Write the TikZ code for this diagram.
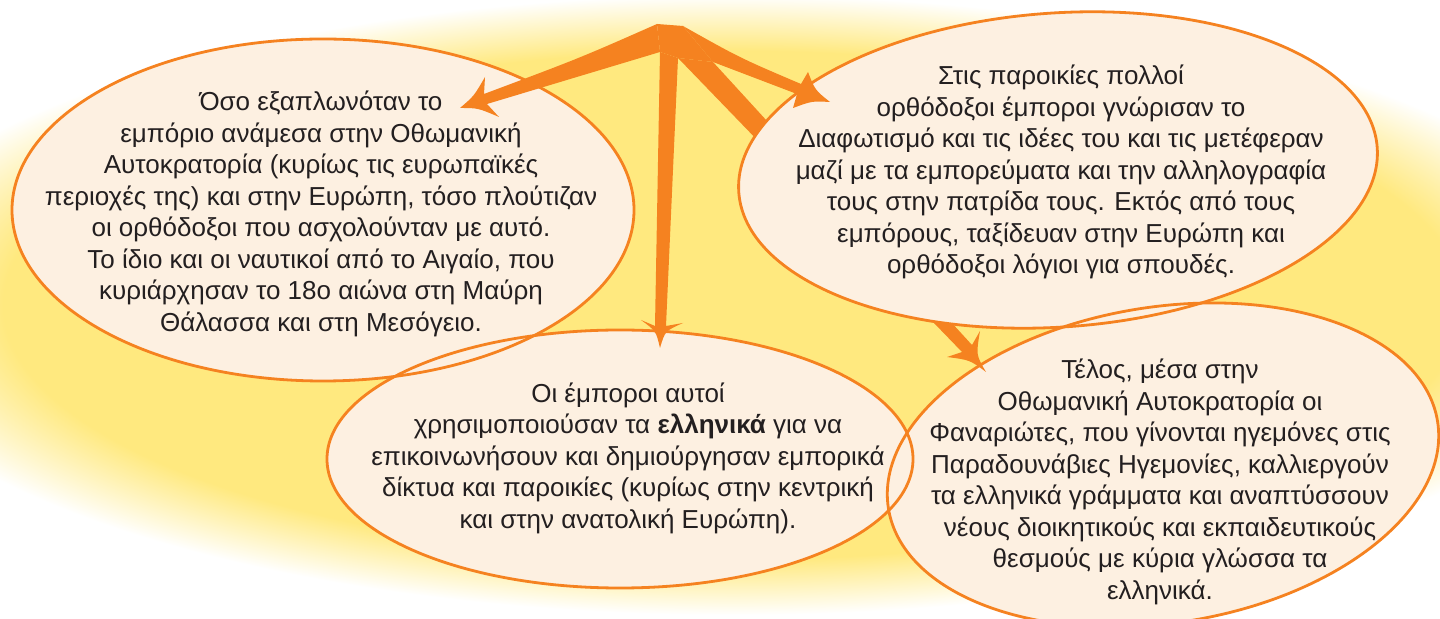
\documentclass[tikz,border=0pt]{standalone}
\usepackage{fontspec}
\setmainfont{Liberation Sans}
\definecolor{glowy}{HTML}{FFE97F}
\definecolor{cream}{HTML}{FDF0E1}
\definecolor{orng}{HTML}{F58220}
\definecolor{txt}{HTML}{231F20}
\pgfdeclareradialshading{glow}{\pgfpointorigin}{color(0bp)=(glowy); color(20.5bp)=(glowy); color(25bp)=(white); color(50bp)=(white)}
\begin{document}
\begin{tikzpicture}[x=0.5pt,y=-0.5pt,
  bubble/.style={fill=cream},
  rim/.style={draw=orng, line width=1.4pt},
  arr/.style={fill=orng},
  txtnode/.style={text=txt, align=center, font=\fontsize{13}{15.75}\selectfont, inner sep=0pt}]
\useasboundingbox (0,0) rectangle (1440,619);
\clip (0,0) rectangle (1440,619);
\fill[white] (0,0) rectangle (1440,619);
% glow
\shade[shading=glow] (733,305) ellipse [x radius=890, y radius=310];
% bubbles (fill)
\fill[bubble] (323,210) ellipse [x radius=311, y radius=171];
\fill[bubble] (620,459) ellipse [x radius=293, y radius=129];
\fill[bubble, rotate around={9:(1163,465)}] (1163,465) ellipse [x radius=278, y radius=158];
% rims
\draw[rim] (323,210) ellipse [x radius=311, y radius=171];
\draw[rim] (620,459) ellipse [x radius=293, y radius=129];
\draw[rim, rotate around={9:(1163,465)}] (1163,465) ellipse [x radius=278, y radius=158];
% diagonal arrow (behind upper right bubble)
\fill[arr] (678,58) -- (962,352) -- (947,357) .. controls (970,360) .. (986,372)
  .. controls (976,355) .. (980,331) -- (972,345) -- (713,62) -- cycle;
% upper right bubble
\fill[bubble, rotate around={4:(1058,170)}] (1058,170) ellipse [x radius=320, y radius=157];
\begin{scope}
\clip[rotate around={4:(1058,170)}] (1058,170) ellipse [x radius=320, y radius=157];
\draw[rim, rotate around={9:(1163,465)}] (1163,465) ellipse [x radius=278, y radius=158];
\end{scope}
\draw[rim, rotate around={4:(1058,170)}] (1058,170) ellipse [x radius=320, y radius=157];
% other arrows
\fill[arr] (657,24) .. controls (580,58) .. (484,94) -- (485,77) .. controls (474,96) .. (460,108)
  .. controls (478,108) .. (499,117) -- (487,104) -- (660,52) -- cycle;
\fill[arr] (660,52) -- (655,326) -- (641,320) .. controls (656,331) .. (660,348)
  .. controls (665,331) .. (683,323) -- (666,326) -- (678,58) -- cycle;
\fill[arr] (683,26) .. controls (740,58) .. (801,84) -- (808,72) .. controls (815,90) .. (830,102)
  .. controls (812,101) .. (793,108) -- (797,94) -- (713,62) -- cycle;
\fill[arr] (657,24) -- (683,26) -- (713,62) -- (678,58) -- (660,52) -- cycle;
% texts
\node[txtnode] (t1) at (321,214) {Όσο εξαπλωνόταν το\\εμπόριο ανάμεσα στην Οθωμανική\\Αυτοκρατορία (κυρίως τις ευρωπαϊκές\\περιοχές της) και στην Ευρώπη, τόσο πλούτιζαν\\οι ορθόδοξοι που ασχολούνταν με αυτό.\\Το ίδιο και οι ναυτικοί από το Αιγαίο, που\\κυριάρχησαν το 18ο αιώνα στη Μαύρη\\Θάλασσα και στη Μεσόγειο.};
\node[txtnode] (t2) at (1061,172) {Στις παροικίες πολλοί\\ορθόδοξοι έμποροι γνώρισαν το\\Διαφωτισμό και τις ιδέες του και τις μετέφεραν\\μαζί με τα εμπορεύματα και την αλληλογραφία\\τους στην πατρίδα τους. Εκτός από τους\\εμπόρους, ταξίδευαν στην Ευρώπη και\\ορθόδοξοι λόγιοι για σπουδές.};
\node[txtnode] (t3) at (628,458) {Οι έμποροι αυτοί\\χρησιμοποιούσαν τα \textbf{ελληνικά} για να\\επικοινωνήσουν και δημιούργησαν εμπορικά\\δίκτυα και παροικίες (κυρίως στην κεντρική\\και στην ανατολική Ευρώπη).};
\node[txtnode] (t4) at (1160,482) {Τέλος, μέσα στην\\Οθωμανική Αυτοκρατορία οι\\Φαναριώτες, που γίνονται ηγεμόνες στις\\Παραδουνάβιες Ηγεμονίες, καλλιεργούν\\τα ελληνικά γράμματα και αναπτύσσουν\\νέους διοικητικούς και εκπαιδευτικούς\\θεσμούς με κύρια γλώσσα τα\\ελληνικά.};
\end{tikzpicture}
\end{document}
